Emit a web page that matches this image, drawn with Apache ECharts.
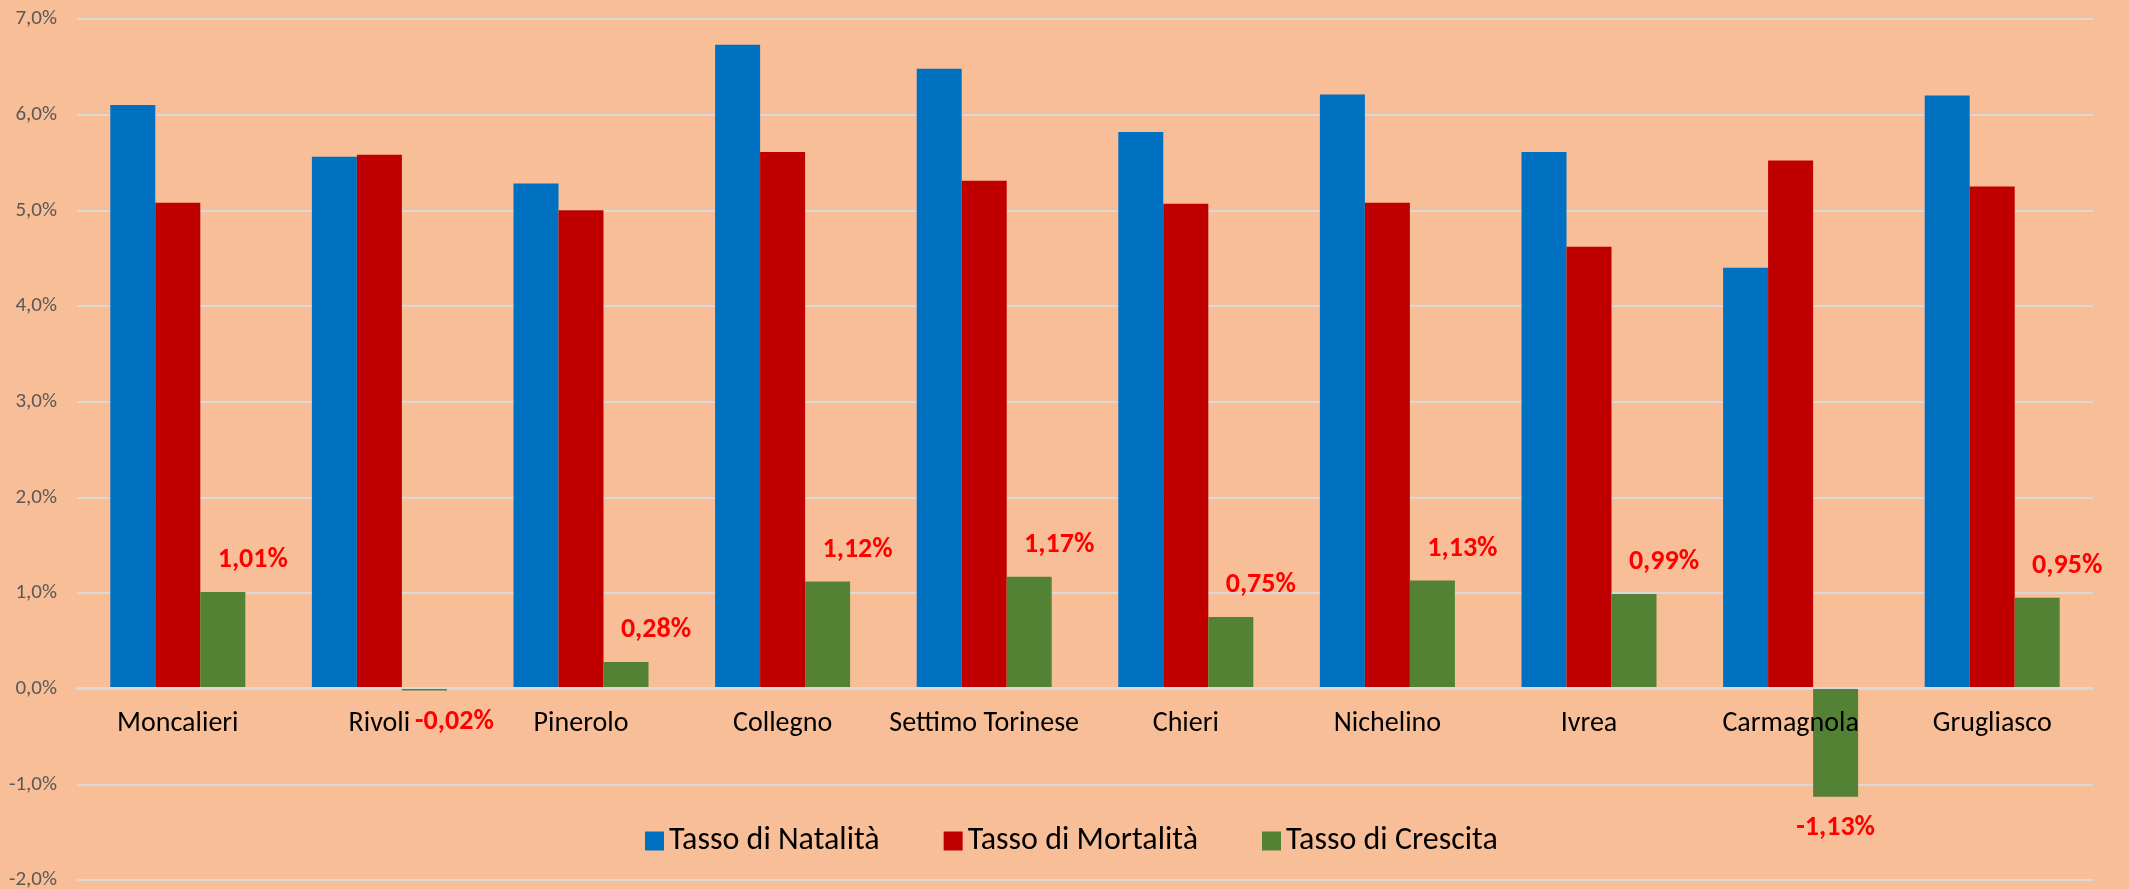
<!DOCTYPE html>
<html>
<head>
<meta charset="utf-8">
<script src="https://cdn.jsdelivr.net/npm/echarts@6/dist/echarts.min.js"></script>
<style>
	html, body { margin: 0; padding: 0; background: #F8BE98; }
	#chartDiv { width: 2129px; height: 889px; }
</style>
</head>
<body>
<div id="chartDiv"></div>
<script>
const comuni = ['Moncalieri', 'Rivoli', 'Pinerolo', 'Collegno', 'Settimo Torinese', 'Chieri', 'Nichelino', 'Ivrea', 'Carmagnola', 'Grugliasco'];
const natalita = [6.10, 5.56, 5.28, 6.73, 6.48, 5.82, 6.21, 5.61, 4.40, 6.20];
const mortalita = [5.08, 5.58, 5.00, 5.61, 5.31, 5.07, 5.08, 4.62, 5.52, 5.25];
const crescita = [1.01, -0.02, 0.28, 1.12, 1.17, 0.75, 1.13, 0.99, -1.13, 0.95];
const seriesNames = ['Tasso di Natalità', 'Tasso di Mortalità', 'Tasso di Crescita'];

const fontFam = "Carlito, 'Liberation Sans Narrow', Lato, sans-serif";
const pct = (v, d) => v.toFixed(d).replace('.', ',') + '%';

let chart = echarts.init(document.getElementById('chartDiv'));

// etichette negative sotto la barra, la piccola (Rivoli) spostata a destra
let crescitaData = crescita.map(v => {
	if (v >= 0) return v;
	return {
		value: v,
		label: {
			position: 'bottom',
			offset: v > -0.5 ? [30, 12] : [0, 12]
		}
	};
});

let option = {
	backgroundColor: '#F8BE98',
	animation: false,
	grid: {
		left: 77,
		right: 36,
		top: 19,
		bottom: 9,
		containLabel: false,
		outerBoundsMode: 'none'
	},
	legend: {
		data: seriesNames,
		left: 645,
		top: 825,
		padding: 0,
		itemWidth: 19,
		itemHeight: 19,
		itemGap: 64,
		icon: 'rect',
		textStyle: {
			fontFamily: fontFam,
			fontSize: 32,
			color: '#000'
		}
	},
	xAxis: {
		type: 'category',
		data: comuni,
		position: 'bottom',
		offset: -192, // asse sullo 0%
		z: 10, // etichette sopra le barre (Carmagnola)
		axisLine: {
			onZero: false,
			lineStyle: { color: '#D9D9D9', width: 2 }
		},
		axisTick: { show: false },
		axisLabel: {
			interval: 0,
			margin: 22,
			fontFamily: fontFam,
			fontSize: 28,
			color: '#000'
		}
	},
	yAxis: {
		type: 'value',
		min: -2,
		max: 7,
		interval: 1,
		axisLine: { show: false },
		axisTick: { show: false },
		splitLine: {
			lineStyle: { color: '#D9D9D9', width: 2 }
		},
		axisLabel: {
			margin: 20,
			fontFamily: fontFam,
			fontSize: 21,
			color: '#595959',
			formatter: v => pct(v, 1)
		}
	},
	series: [{
			name: seriesNames[0],
			type: 'bar',
			barWidth: 45,
			barGap: '0%',
			itemStyle: { color: '#0070C0' },
			data: natalita
		},
		{
			name: seriesNames[1],
			type: 'bar',
			barWidth: 45,
			barGap: '0%',
			itemStyle: { color: '#C00000' },
			data: mortalita
		},
		{
			name: seriesNames[2],
			type: 'bar',
			barWidth: 45,
			barGap: '0%',
			itemStyle: { color: '#548235' },
			label: {
				show: true,
				position: 'top',
				distance: 5,
				offset: [30, -13],
				fontFamily: fontFam,
				fontSize: 28,
				fontWeight: 'bold',
				color: '#FF0000',
				formatter: p => pct(p.value, 2)
			},
			data: crescitaData
		}
	]
};

chart.setOption(option);
</script>
</body>
</html>
